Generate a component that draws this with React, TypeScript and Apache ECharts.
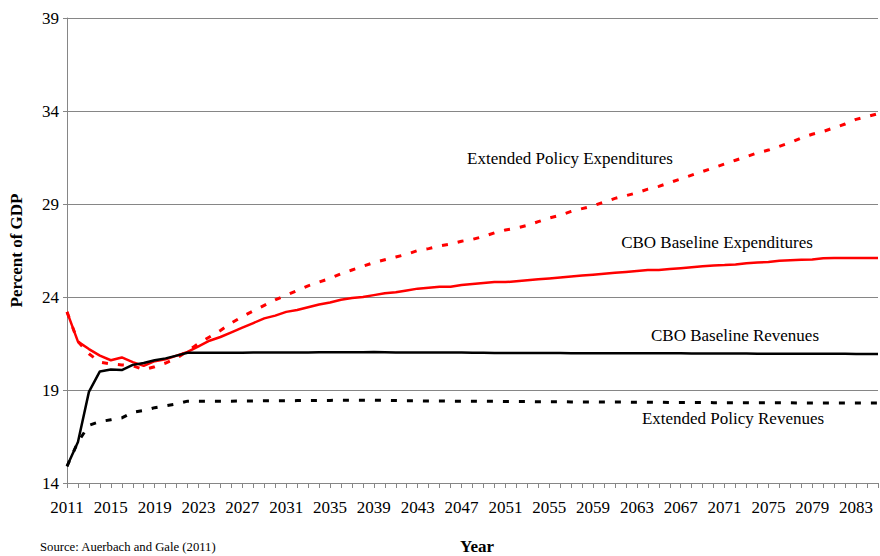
import React, { useEffect, useRef } from "react";
import * as echarts from "echarts";

const years: string[] = [];
for (let y = 2011; y <= 2085; y++) years.push(String(y));

const cboBaselineExpenditures = [
  23.2, 21.6, 21.2, 20.85, 20.6, 20.75, 20.5, 20.3, 20.55, 20.65,
  20.85, 21.05, 21.35, 21.65, 21.85, 22.1, 22.35, 22.6, 22.85, 23.0,
  23.2, 23.3, 23.45, 23.6, 23.7, 23.85, 23.95, 24.0, 24.1, 24.2,
  24.25, 24.35, 24.45, 24.5, 24.55, 24.55, 24.65, 24.7, 24.75, 24.8,
  24.8, 24.85, 24.9, 24.95, 25.0, 25.05, 25.1, 25.15, 25.2, 25.25,
  25.3, 25.35, 25.4, 25.45, 25.45, 25.5, 25.55, 25.6, 25.65, 25.7,
  25.72, 25.75, 25.82, 25.85, 25.88, 25.95, 25.98, 26.0, 26.02, 26.08,
  26.1, 26.1, 26.1, 26.1, 26.1,
];

const extendedPolicyExpenditures = [
  23.2, 21.6, 20.95, 20.5, 20.4, 20.35, 20.3, 20.1, 20.25, 20.45,
  20.7, 21.1, 21.5, 21.85, 22.2, 22.6, 22.95, 23.25, 23.55, 23.85,
  24.1, 24.35, 24.6, 24.8, 25.0, 25.25, 25.45, 25.65, 25.85, 26.0,
  26.15, 26.3, 26.5, 26.6, 26.75, 26.85, 27.0, 27.1, 27.25, 27.45,
  27.6, 27.7, 27.85, 28.05, 28.25, 28.4, 28.6, 28.75, 28.9, 29.1,
  29.3, 29.45, 29.6, 29.8, 29.95, 30.15, 30.35, 30.55, 30.75, 30.95,
  31.15, 31.35, 31.55, 31.75, 31.9, 32.1, 32.3, 32.55, 32.75, 32.9,
  33.1, 33.3, 33.55, 33.7, 33.85,
];

const cboBaselineRevenues = [
  14.9, 16.2, 18.9, 20.0, 20.1, 20.07, 20.35, 20.45, 20.6, 20.7,
  20.85, 21.0, 21.0, 21.0, 21.0, 21.0, 21.0, 21.01, 21.01, 21.01,
  21.01, 21.02, 21.02, 21.03, 21.03, 21.03, 21.03, 21.03, 21.04, 21.03,
  21.02, 21.02, 21.02, 21.01, 21.01, 21.01, 21.01, 21.0, 21.0, 20.99,
  20.99, 20.99, 20.99, 20.99, 20.99, 20.99, 20.98, 20.98, 20.98, 20.98,
  20.98, 20.98, 20.97, 20.97, 20.97, 20.97, 20.97, 20.96, 20.96, 20.96,
  20.96, 20.96, 20.96, 20.95, 20.95, 20.95, 20.95, 20.95, 20.95, 20.95,
  20.95, 20.95, 20.94, 20.94, 20.94,
];

const extendedPolicyRevenues = [
  14.9, 16.2, 17.1, 17.3, 17.4, 17.5, 17.8, 17.9, 18.05, 18.15,
  18.25, 18.4, 18.4, 18.4, 18.4, 18.4, 18.41, 18.41, 18.42, 18.42,
  18.42, 18.43, 18.43, 18.44, 18.44, 18.45, 18.45, 18.45, 18.45, 18.44,
  18.43, 18.42, 18.42, 18.41, 18.41, 18.4, 18.4, 18.4, 18.39, 18.39,
  18.38, 18.38, 18.38, 18.37, 18.37, 18.37, 18.36, 18.36, 18.36, 18.35,
  18.35, 18.35, 18.34, 18.34, 18.34, 18.33, 18.33, 18.33, 18.33, 18.32,
  18.32, 18.32, 18.32, 18.31, 18.31, 18.31, 18.31, 18.3, 18.3, 18.3,
  18.3, 18.3, 18.3, 18.3, 18.3,
];

const seriesNames = [
  "CBO Baseline Expenditures",
  "Extended Policy Expenditures",
  "CBO Baseline Revenues",
  "Extended Policy Revenues",
];

const FONT = "'Liberation Serif', 'Times New Roman', serif";

export default function App() {
  const ref = useRef<HTMLDivElement>(null);

  useEffect(() => {
    document.body.style.margin = "0";
    if (!ref.current) return;
    const chart = echarts.init(ref.current, undefined, { renderer: "svg" });
    const annot = (text: string, x: number, y: number) => ({
      type: "text",
      x,
      y,
      style: { text, font: `17px ${FONT}`, fill: "#000", textAlign: "center", textVerticalAlign: "middle" },
    });
    chart.setOption({
      animation: false,
      backgroundColor: "#ffffff",
      grid: { left: 64, right: 2, top: 18, bottom: 73, containLabel: false },
      xAxis: {
        type: "category",
        data: years,
        boundaryGap: false,
        axisLine: { lineStyle: { color: "#868686", width: 1 } },
        axisTick: { interval: 0, length: 5, lineStyle: { color: "#868686" } },
        axisLabel: {
          interval: (i: number) => i % 4 === 0,
          hideOverlap: false,
          fontFamily: FONT,
          fontSize: 17,
          color: "#000",
          margin: 16,
        },
        splitLine: { show: false },
      },
      yAxis: {
        type: "value",
        min: 14,
        max: 39,
        interval: 5,
        name: "Percent of GDP",
        nameLocation: "middle",
        nameGap: 42,
        nameTextStyle: { fontFamily: FONT, fontSize: 17, fontWeight: "bold", color: "#000" },
        axisLine: { show: true, lineStyle: { color: "#868686", width: 1 } },
        axisTick: { show: true, length: 4, lineStyle: { color: "#868686" } },
        axisLabel: { fontFamily: FONT, fontSize: 17, color: "#000", margin: 8 },
        splitLine: { lineStyle: { color: "#868686", width: 1 } },
      },
      series: [
        {
          name: seriesNames[0],
          type: "line",
          data: cboBaselineExpenditures,
          symbol: "none",
          lineStyle: { color: "#ff0000", width: 2.5 },
          z: 3,
        },
        {
          name: seriesNames[1],
          type: "line",
          data: extendedPolicyExpenditures,
          symbol: "none",
          lineStyle: { color: "#ff0000", width: 3, type: [6, 10] },
          z: 2,
        },
        {
          name: seriesNames[2],
          type: "line",
          data: cboBaselineRevenues,
          symbol: "none",
          lineStyle: { color: "#000000", width: 2.5 },
          z: 4,
        },
        {
          name: seriesNames[3],
          type: "line",
          data: extendedPolicyRevenues,
          symbol: "none",
          lineStyle: { color: "#000000", width: 3, type: [6, 10] },
          z: 2,
        },
      ],
      graphic: [
        annot(seriesNames[1], 570, 158),
        annot(seriesNames[0], 717, 242),
        annot(seriesNames[2], 735, 335),
        annot(seriesNames[3], 733, 418),
        {
          type: "text",
          x: 477,
          y: 546,
          style: { text: "Year", font: `bold 17px ${FONT}`, fill: "#000", textAlign: "center", textVerticalAlign: "middle" },
        },
        {
          type: "text",
          x: 40,
          y: 547,
          style: { text: "Source: Auerbach and Gale (2011)", font: `12.7px ${FONT}`, fill: "#000", textAlign: "left", textVerticalAlign: "middle" },
        },
      ],
    });
    return () => chart.dispose();
  }, []);

  return <div ref={ref} style={{ width: 880, height: 556 }} />;
}
